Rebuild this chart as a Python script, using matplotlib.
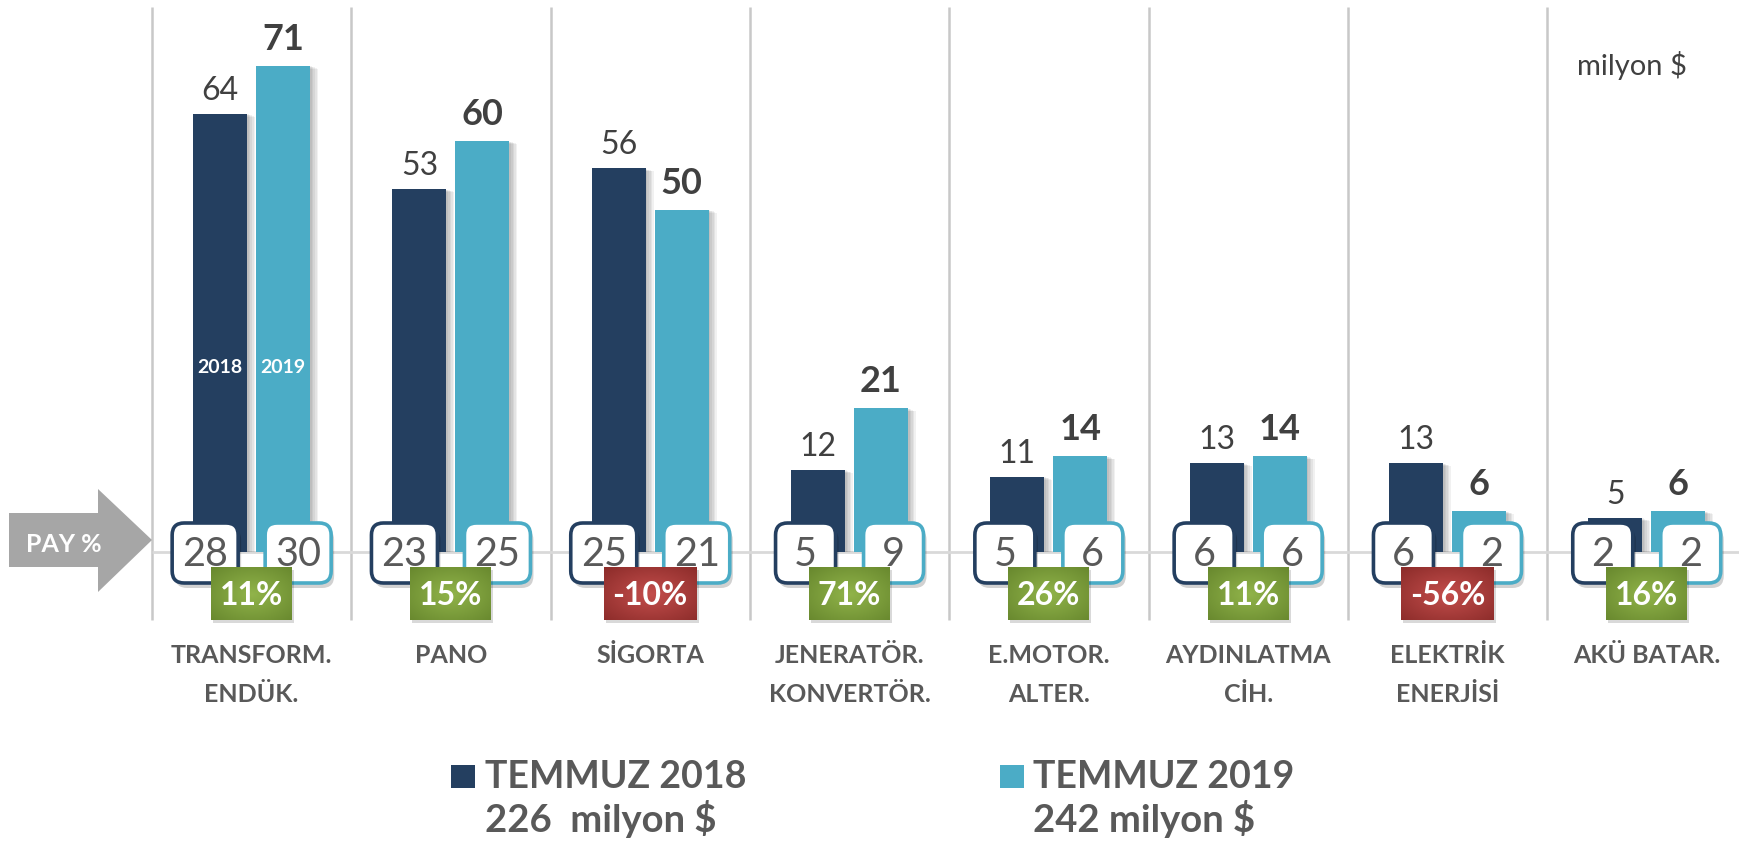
import matplotlib
matplotlib.use("Agg")
import matplotlib.pyplot as plt
import numpy as np
from matplotlib.patches import FancyBboxPatch, Rectangle, Polygon

# ---------------- data ----------------
categories = ["TRANSFORM.\nENDÜK.", "PANO", "SİGORTA", "JENERATÖR.\nKONVERTÖR.",
              "E.MOTOR.\nALTER.", "AYDINLATMA\nCİH.", "ELEKTRİK\nENERJİSİ", "AKÜ BATAR."]
values_2018 = [64, 53, 56, 12, 11, 13, 13, 5]
values_2019 = [71, 60, 50, 21, 14, 14, 6, 6]
share_2018 = [28, 23, 25, 5, 5, 6, 6, 2]
share_2019 = [30, 25, 21, 9, 6, 6, 2, 2]
change_pct = [11, 15, -10, 71, 26, 11, -56, 16]
series_names = ["TEMMUZ 2018", "TEMMUZ 2019"]
series_totals = ["226  milyon $", "242 milyon $"]
inner_labels = ["2018", "2019"]
unit_text = "milyon $"
share_text = "PAY %"

# ---------------- style ----------------
DARK = "#243f60"
LIGHT = "#4bacc6"
GREY_TXT = "#595959"
VAL_TXT = "#404040"
plt.rcParams["font.family"] = ["Lato", "DejaVu Sans"]

W, H = 1740, 851
fig = plt.figure(figsize=(W / 100, H / 100), dpi=100)
fig.patch.set_facecolor("white")

CAT_PX, X0_PX, BASE_PX, UNIT_PX = 199.3, 152, 552, 6.85
ax = fig.add_axes([0, 0, 1, 1])
ax.set_xlim(-0.5 - X0_PX / CAT_PX, -0.5 + (W - X0_PX) / CAT_PX)
ax.set_ylim(-(H - BASE_PX) / UNIT_PX, BASE_PX / UNIT_PX)
ax.axis("off")
ax.set_autoscale_on(False)

px_x = 1 / CAT_PX
px_y = 1 / UNIT_PX
x = np.arange(len(categories))
bw = 54 * px_x
off = 31.5 * px_x

# grid lines
ax.vlines(x - 0.5, -(620 - BASE_PX) * px_y, (BASE_PX - 7) * px_y,
          color="#c8c8c8", lw=1.8, zorder=0)
ax.hlines(0, -0.5, ax.get_xlim()[1], color="#d9d9d9", lw=2, zorder=0)

# bars with soft shadow
for vals, sgn, col in [(values_2018, -1, DARK), (values_2019, 1, LIGHT)]:
    v = np.array(vals, dtype=float)
    for k in range(1, 6):
        ax.bar(x + sgn * off + k * 1.6 * px_x, v - k * 0.6 * px_y, bw,
               bottom=0, color="black", alpha=0.055, lw=0, zorder=1)
    ax.bar(x + sgn * off, v, bw, color=col, lw=0, zorder=2)

for i in x:
    ax.annotate(f"{values_2018[i]}", (i - off, values_2018[i]), xytext=(0, 8),
                textcoords="offset pixels", ha="center", va="bottom",
                fontsize=23, color=VAL_TXT, zorder=4)
    ax.annotate(f"{values_2019[i]}", (i + off, values_2019[i]), xytext=(0, 10),
                textcoords="offset pixels", ha="center", va="bottom",
                fontsize=26, fontweight="bold", color=VAL_TXT, zorder=4)

ax.text(0 - off, 27, inner_labels[0], ha="center", va="center", color="white",
        fontsize=14, fontweight="bold", zorder=4)
ax.text(0 + off, 27, inner_labels[1], ha="center", va="center", color="white",
        fontsize=14, fontweight="bold", zorder=4)

# ---------------- overlay in pixel coordinates ----------------
ax2 = fig.add_axes([0, 0, 1, 1], zorder=5)
ax2.set_xlim(0, W)
ax2.set_ylim(H, 0)
ax2.axis("off")
ax2.patch.set_alpha(0)
ax2.set_autoscale_on(False)

cpx = [ax.transData.transform((i, 0))[0] for i in x]

def radial(c_center, c_edge, w, h):
    yy, xx = np.mgrid[0:h, 0:w]
    t = np.sqrt(((xx - w / 2) / (w / 2)) ** 2 + ((yy - h / 2) / (h / 2)) ** 2) / np.sqrt(2)
    t = np.clip(t, 0, 1)[..., None]
    cc = np.array(c_center) / 255.0
    ce = np.array(c_edge) / 255.0
    return cc * (1 - t) + ce * t

for i in x:
    # share boxes
    for val, col, sgn in [(share_2018[i], DARK, -1), (share_2019[i], LIGHT, 1)]:
        nd = len(str(val))
        bwid = 66 if nd > 1 else 60
        offc = 46.5 if nd > 1 else 44
        bh = 60
        bx = cpx[i] + sgn * offc
        y0 = 523
        ax2.add_patch(FancyBboxPatch((bx - bwid / 2 + 3, y0 + 5), bwid, bh,
                                     boxstyle="round,pad=0,rounding_size=12",
                                     fc="black", ec="none", alpha=0.18, zorder=1))
        ax2.add_patch(FancyBboxPatch((bx - bwid / 2, y0), bwid, bh,
                                     boxstyle="round,pad=0,rounding_size=12",
                                     fc="white", ec=col, lw=2.6, zorder=2))
        ax2.text(bx, 566, f"{val}", ha="center", va="baseline", fontsize=28.5,
                 color=GREY_TXT, zorder=3)
    # change boxes
    c = change_pct[i]
    txt = f"{c}%"
    pw = 81 if len(txt) <= 3 else 93
    ph = 53
    py0 = 567
    if c >= 0:
        grad = radial((145, 180, 74), (104, 136, 46), 60, 40)
    else:
        grad = radial((196, 78, 76), (140, 44, 42), 60, 40)
    ax2.add_patch(Rectangle((cpx[i] - pw / 2 + 2, py0 + 3), pw, ph, fc="black",
                            ec="none", alpha=0.15, zorder=3))
    ax2.imshow(grad, extent=(cpx[i] - pw / 2, cpx[i] + pw / 2, py0 + ph, py0),
               aspect="auto", interpolation="bicubic", zorder=4)
    ax2.text(cpx[i], 605, txt, ha="center", va="baseline", fontsize=23,
             fontweight="bold", color="white", zorder=5)
    # category labels
    for k, line in enumerate(categories[i].split("\n")):
        ax2.text(cpx[i], 663 + k * 39, line, ha="center", va="baseline",
                 fontsize=18, fontweight="bold", color=GREY_TXT, zorder=5)

# PAY % arrow
ax2.add_patch(Polygon([(9, 513), (98, 513), (98, 489), (152, 540), (98, 592),
                       (98, 567), (9, 567)], closed=True, fc="#a6a6a6", ec="none",
                      zorder=2))
ax2.text(64, 552, share_text, ha="center", va="baseline", fontsize=18,
         fontweight="bold", color="white", zorder=3)

# unit
ax2.text(1632, 75, unit_text, ha="center", va="baseline", fontsize=21,
         color=VAL_TXT, zorder=3)

# legend
for (sx, tx), name, tot, col in zip([(451, 485), (1000, 1033)], series_names,
                                    series_totals, [DARK, LIGHT]):
    ax2.add_patch(Rectangle((sx, 765), 24, 23, fc=col, ec="none", zorder=3))
    ax2.text(tx, 788, name, ha="left", va="baseline", fontsize=27,
             fontweight="bold", color=GREY_TXT, zorder=3)
    ax2.text(tx, 832, tot, ha="left", va="baseline", fontsize=27.5,
             fontweight="bold", color=GREY_TXT, zorder=3)

fig.savefig("out.png", dpi=100, facecolor="white")
